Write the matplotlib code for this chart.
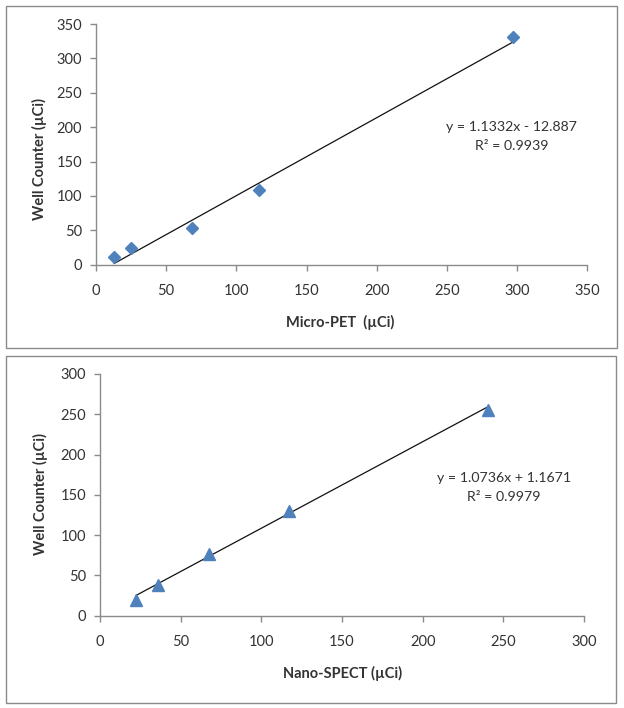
import matplotlib
matplotlib.use("Agg")
import matplotlib.pyplot as plt
from matplotlib.patches import Rectangle

plt.rcParams['font.family'] = ['Lato', 'DejaVu Sans']

# Micro-PET vs well counter
pet_x = [13.0, 24.7, 68.4, 115.8, 297.2]
pet_y = [11.6, 24.0, 53.0, 108.0, 331.0]
pet_fit = (1.1332, -12.887)
pet_eq = "y = 1.1332x - 12.887"
pet_r2 = "R\u00b2 = 0.9939"

# Nano-SPECT vs well counter
spect_x = [22.3, 35.9, 67.4, 117.4, 240.3]
spect_y = [19.3, 37.8, 77.0, 129.8, 255.0]
spect_fit = (1.0736, 1.1671)
spect_eq = "y = 1.0736x + 1.1671"
spect_r2 = "R\u00b2 = 0.9979"

pet_ticks = [0, 50, 100, 150, 200, 250, 300, 350]
spect_ticks = [0, 50, 100, 150, 200, 250, 300]

BLUE = '#4f81bd'
GRAY = '#8a8a8a'
TXT = '#333333'


def style_axes(ax, ticks):
    for s in ['top', 'right']:
        ax.spines[s].set_visible(False)
    for s in ['left', 'bottom']:
        ax.spines[s].set_color(GRAY)
        ax.spines[s].set_linewidth(1.0)
    ax.set_xlim(ticks[0], ticks[-1])
    ax.set_ylim(ticks[0], ticks[-1])
    ax.set_xticks(ticks)
    ax.set_yticks(ticks)
    ax.tick_params(axis='both', direction='out', length=4, width=1.0,
                   color=GRAY, labelsize=10.5, labelcolor=TXT)
    ax.tick_params(axis='x', pad=10)
    ax.tick_params(axis='y', pad=6)


def panel(ax, x, y, fit, marker, ms, ticks, xlabel, eq, r2, eq_pos, lab_pos):
    a, b = fit
    xs = [min(x), max(x)]
    ax.plot(xs, [a * v + b for v in xs], color='#111111', lw=0.9, zorder=2)
    ax.plot(x, y, linestyle='none', marker=marker, ms=ms, color=BLUE,
            markeredgecolor=BLUE, zorder=3, clip_on=False)
    style_axes(ax, ticks)
    ax.set_xlabel(xlabel, fontsize=10.5, fontweight='bold', color=TXT, va='center')
    ax.set_ylabel("Well Counter (\u00b5Ci)", fontsize=10.5, fontweight='bold',
                  color=TXT, va='center')
    ax.xaxis.set_label_coords(*lab_pos[0])
    ax.yaxis.set_label_coords(*lab_pos[1])
    ax.text(eq_pos[0], eq_pos[1], eq, transform=ax.transAxes, ha='center',
            va='center', fontsize=10.2, color=TXT)
    ax.text(eq_pos[0], eq_pos[2], r2, transform=ax.transAxes, ha='center',
            va='center', fontsize=10.2, color=TXT)


fig = plt.figure(figsize=(6.24, 7.08), dpi=100)

# outer chart frames
fig.patches.append(Rectangle((6 / 624, 1 - 348.3 / 708), 610.7 / 624, 342.3 / 708,
                             transform=fig.transFigure, fill=False,
                             edgecolor=GRAY, lw=1.0))
fig.patches.append(Rectangle((6 / 624, 1 - 702.7 / 708), 610 / 624, 346.7 / 708,
                             transform=fig.transFigure, fill=False,
                             edgecolor=GRAY, lw=1.0))

ax1 = fig.add_axes([0.1538, 0.6261, 0.7873, 0.3400])
panel(ax1, pet_x, pet_y, pet_fit, 'D', 6, pet_ticks, "Micro-PET  (\u00b5Ci)",
      pet_eq, pet_r2, (0.846, 0.573, 0.494), ((0.498, -0.241), (-0.114, 0.44)))

ax2 = fig.add_axes([0.1603, 0.1304, 0.7756, 0.3414])
panel(ax2, spect_x, spect_y, spect_fit, '^', 8, spect_ticks, "Nano-SPECT (\u00b5Ci)",
      spect_eq, spect_r2, (0.835, 0.570, 0.492), ((0.501, -0.238), (-0.124, 0.503)))

fig.savefig('out.png', dpi=100)
